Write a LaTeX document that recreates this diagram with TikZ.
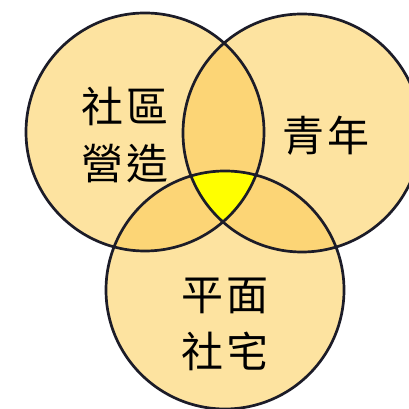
\documentclass[tikz,border=0pt]{standalone}
\usepackage{fontspec}
\newfontfamily\cjk{Noto Sans CJK TC}
\definecolor{vennbase}{RGB}{253,227,160}
\definecolor{vennpair}{RGB}{252,213,118}
\definecolor{venncore}{RGB}{255,255,0}
\definecolor{vennline}{RGB}{28,28,40}
\tikzset{
  vennlabel/.style={font=\cjk\fontsize{42}{57}\selectfont, align=center, text=black},
}
\begin{document}
\begin{tikzpicture}[x=1pt, y=1pt]
    \useasboundingbox (0,0) rectangle (409,409);
    \clip (0,0) rectangle (409,409);
    \def\r{119}
    \coordinate (cL) at (145,277);
    \coordinate (cR) at (302,276);
    \coordinate (cB) at (225,119);

    % base discs
    \foreach \c in {cL,cR,cB} {
        \fill[vennbase] (\c) circle (\r);
    }
    % pairwise overlaps
    \foreach \a/\b in {cL/cR, cL/cB, cR/cB} {
        \begin{scope}
            \clip (\a) circle (\r);
            \fill[vennpair] (\b) circle (\r);
        \end{scope}
    }
    % centre
    \begin{scope}
        \clip (cL) circle (\r);
        \clip (cR) circle (\r);
        \fill[venncore] (cB) circle (\r);
    \end{scope}
    % outlines
    \foreach \c in {cL,cR,cB} {
        \draw[vennline, line width=2.7pt] (\c) circle (\r);
    }

    \node[vennlabel] (shequ) at (125,273.5) {社\hspace{4pt}區\\營\hspace{4pt}造};
    \node[vennlabel] (qingnian) at (326,273) {青\hspace{4pt}年};
    \node[vennlabel] (shezhai) at (225,84.5) {平\hspace{4pt}面\\社\hspace{4pt}宅};
\end{tikzpicture}
\end{document}
